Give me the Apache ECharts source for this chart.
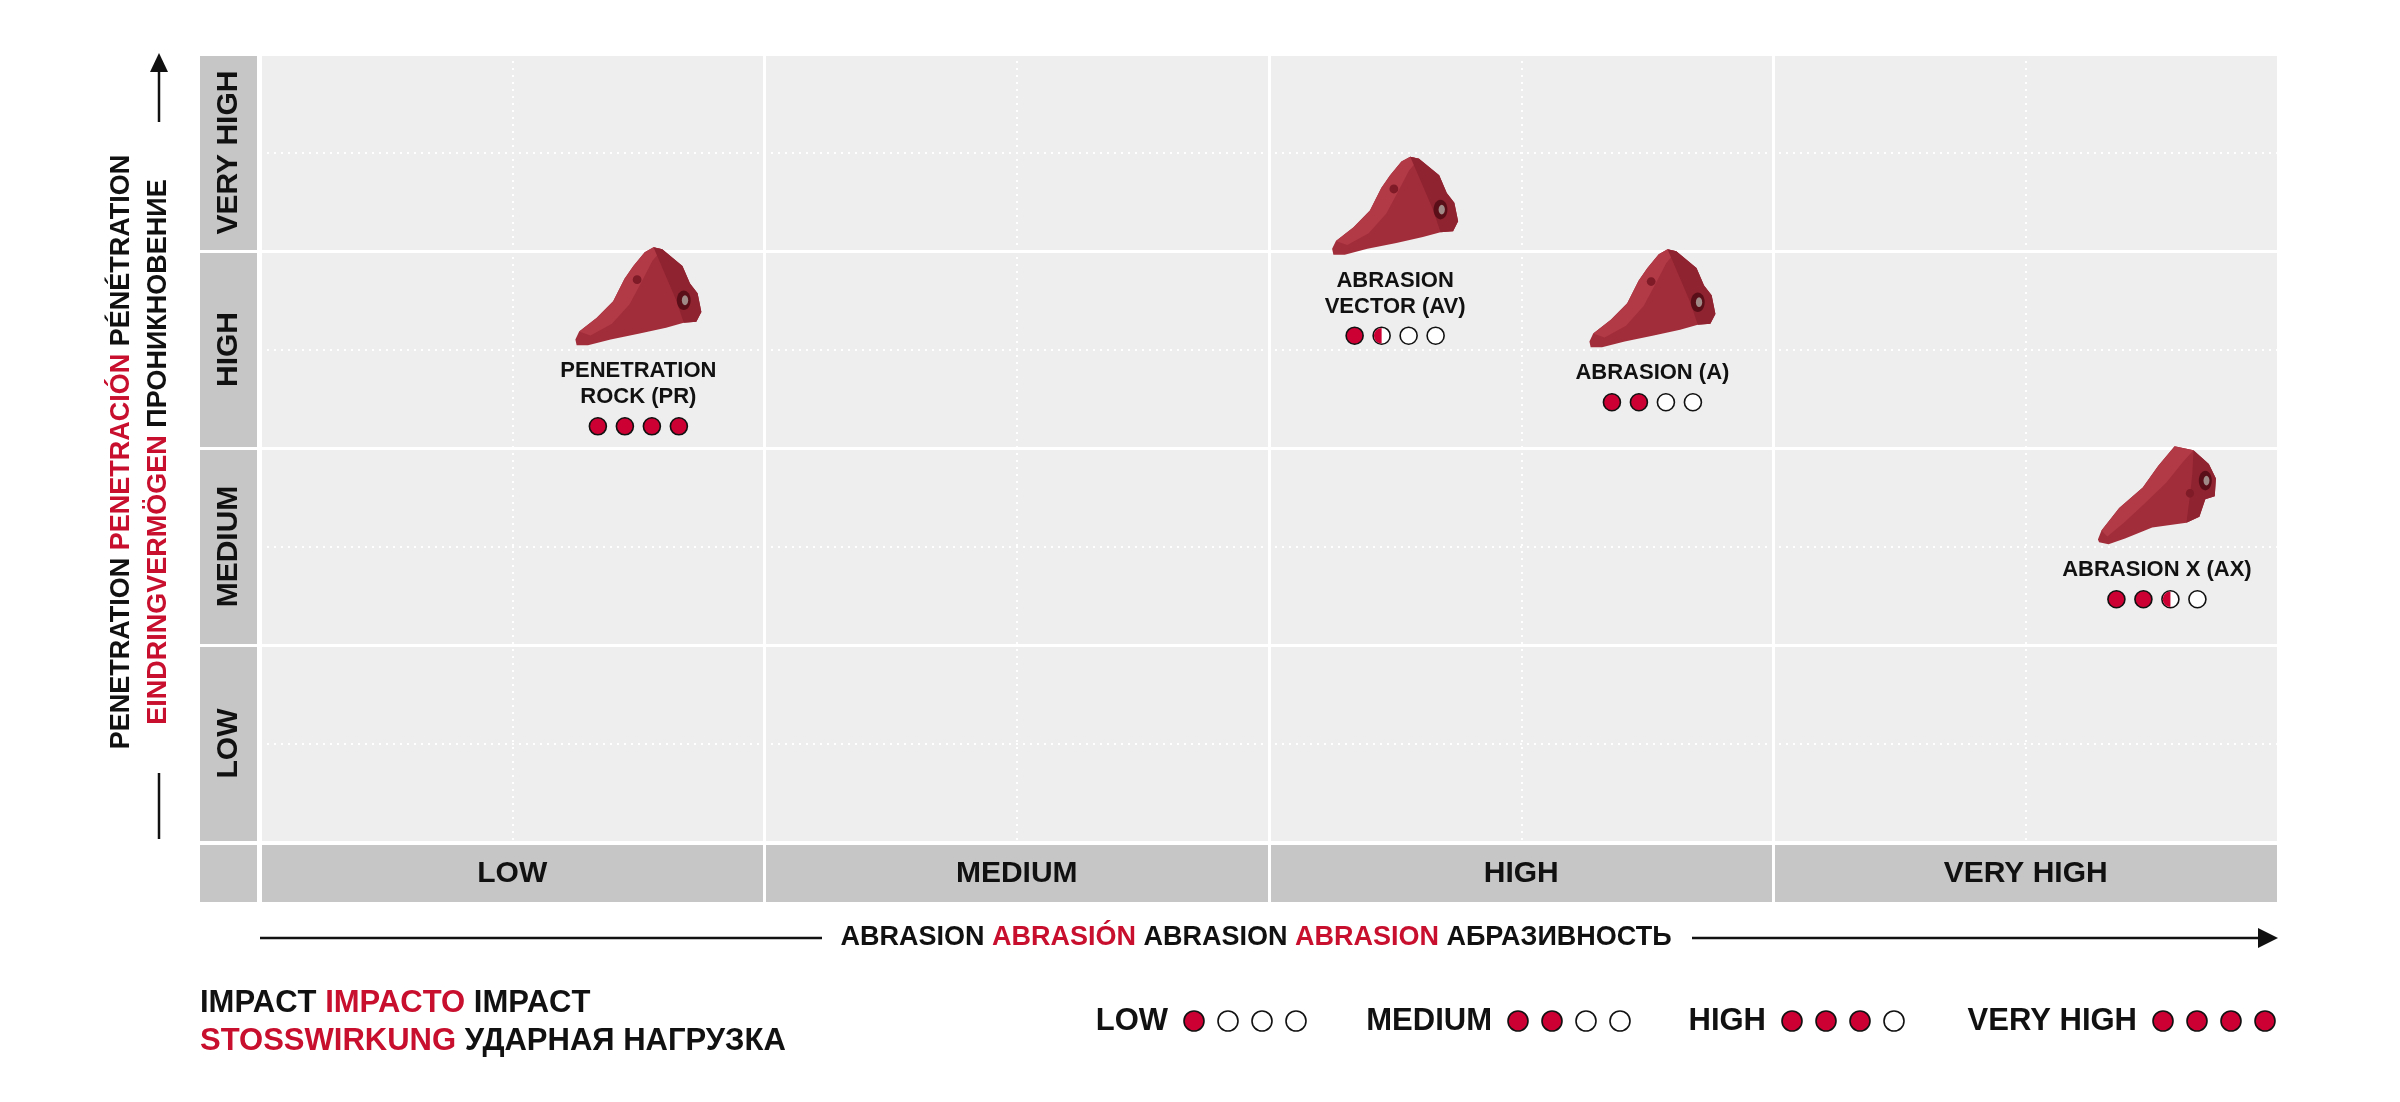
<!DOCTYPE html>
<html>
<head>
<meta charset="utf-8">
<title>Penetration / Abrasion matrix</title>
<script src="https://cdn.jsdelivr.net/npm/echarts@6/dist/echarts.min.js"></script>
<style>
  html, body { margin: 0; padding: 0; background: #fff; }
  #chart { width: 2400px; height: 1102px; }
</style>
</head>
<body>
<div id="chart"></div>
<script>
const FONT = '"Liberation Sans", Arial, sans-serif';
const RED = '#c8102e';
const DOT_RED = '#cc0033';
const PLOT_BG = '#eeeeee';
const BAND_BG = '#c6c6c6';

// data
const levels = ['LOW', 'MEDIUM', 'HIGH', 'VERY HIGH'];
const productNames = ['PENETRATION\nROCK (PR)', 'ABRASION\nVECTOR (AV)', 'ABRASION (A)', 'ABRASION X (AX)'];
const abrasion = [0.75, 2.25, 2.76, 3.76];     // x, 0..4 (LOW .. VERY HIGH)
const penetration = [2.77, 3.23, 2.76, 1.76];  // y, 0..4 (LOW .. VERY HIGH)
const impact = [4, 1.5, 2, 2.5];               // filled dots out of 4
const legendImpact = [1, 2, 3, 4];
const toothKind = ['slim', 'slim', 'slim', 'thick'];

// tooth silhouettes, drawn in a 100 x 100 box and scaled to size
const toothShapes = {
  slim: {
    w: 126, h: 98,
    body: 'M0,94 L3,86 L17,72 L30,55 L39,32 L46,19 L55,5 L62,0 L69,2 L85,19 L91,37 L97,47 L100,66 L96,76 L86,77 L72,82 L51,88 L28,94 L10,100 L1,100 Z',
    top: 'M3,86 L17,72 L30,55 L39,32 L46,19 L55,5 L62,0 L69,2 L61,14 L53,34 L43,58 L29,78 L12,90 Z',
    side: 'M62,0 L69,2 L85,19 L91,37 L97,47 L100,66 L96,76 L86,77 L80,54 L72,30 Z',
    hole: [86, 54], pin: [49, 33]
  },
  thick: {
    w: 118, h: 98,
    body: 'M0,95 L3,86 L18,63 L38,42 L51,20 L65,0 L81,4 L94,18 L100,33 L99,51 L91,54 L86,72 L75,78 L46,83 L23,94 L9,100 L1,98 Z',
    top: 'M3,86 L18,63 L38,42 L51,20 L65,0 L81,4 L72,16 L58,37 L40,58 L22,78 L8,92 Z',
    side: 'M81,4 L94,18 L100,33 L99,51 L91,54 L86,72 L75,78 L78,50 L80,28 Z',
    hole: [91, 35], pin: [78, 48]
  }
};

function dots(cx, cy, r, gap, value) {
  const els = [];
  for (let k = 0; k < 4; k++) {
    const x = cx + (k - 1.5) * gap;
    const f = Math.max(0, Math.min(1, value - k));
    els.push({
      type: 'circle',
      shape: {cx: x, cy: cy, r: r},
      style: {fill: f >= 1 ? DOT_RED : '#fff', stroke: '#111', lineWidth: 1.6}
    });
    if (f > 0 && f < 1) {
      els.push({
        type: 'sector',
        shape: {cx: x, cy: cy, r0: 0, r: r - 0.8, startAngle: Math.PI / 2, endAngle: Math.PI * 1.5, clockwise: true},
        style: {fill: DOT_RED}
      });
    }
  }
  return els;
}

function tooth(t, x0, y0) {
  return {
    type: 'group', x: x0, y: y0, scaleX: t.w / 100, scaleY: t.h / 100,
    children: [
      {type: 'path', shape: {pathData: t.body}, style: {fill: '#a22d3a'}},
      {type: 'path', shape: {pathData: t.top}, style: {fill: '#b23a47'}},
      {type: 'path', shape: {pathData: t.side}, style: {fill: '#8f2330'}},
      {type: 'ellipse', shape: {cx: t.hole[0], cy: t.hole[1], rx: 5.5, ry: 10}, style: {fill: '#5a0f18'}},
      {type: 'ellipse', shape: {cx: t.hole[0] + 1, cy: t.hole[1], rx: 2.5, ry: 5}, style: {fill: '#a08a88'}},
      {type: 'ellipse', shape: {cx: t.pin[0], cy: t.pin[1], rx: 3.5, ry: 4.5}, style: {fill: '#7e1b27'}}
    ]
  };
}

function renderProduct(params, api) {
  const c = api.coord([api.value(0), api.value(1)]);
  const idx = api.value(3);
  const name = productNames[idx];
  const nLines = name.split('\n').length;
  const t = toothShapes[toothKind[idx]];
  const children = [
    tooth(t, c[0] - t.w / 2, c[1] - t.h / 2),
    {
      type: 'text',
      style: {
        text: name, x: c[0], y: c[1] + 62,
        align: 'center', verticalAlign: 'top',
        fontFamily: FONT, fontWeight: 'bold', fontSize: 22, lineHeight: 26,
        fill: '#111'
      }
    }
  ];
  const dy = 62 + nLines * 26 + 16;
  return {type: 'group', children: children.concat(dots(c[0], c[1] + dy, 8.5, 27, api.value(2)))};
}

// bottom legend
const legendDotStart = [1194, 1518, 1792, 2163];
const legendEls = [];
levels.forEach((lv, i) => {
  const x = legendDotStart[i];
  legendEls.push({
    type: 'text',
    style: {text: lv, x: x - 26, y: 1021, align: 'right', verticalAlign: 'middle',
      fontFamily: FONT, fontWeight: 'bold', fontSize: 31, fill: '#111'}
  });
  dots(x + 1.5 * 34, 1021, 10, 34, legendImpact[i]).forEach(e => legendEls.push(e));
});

const richRed = (size) => ({r: {fill: RED, fontFamily: FONT, fontWeight: 'bold', fontSize: size}});
const textStyle = (size) => ({fontFamily: FONT, fontWeight: 'bold', fontSize: size, fill: '#111'});

const chart = echarts.init(document.getElementById('chart'), null, {renderer: 'canvas'});

const hiddenValue = (grid, extra) => Object.assign({
  type: 'value', gridIndex: grid, min: 0, max: 4,
  axisLine: {show: false}, axisTick: {show: false}, axisLabel: {show: false}, splitLine: {show: false}
}, extra || {});

const bandLabel = {fontFamily: FONT, fontWeight: 'bold', fontSize: 30, color: '#111', interval: 0};

const option = {
  animation: false,
  backgroundColor: '#fff',
  grid: [
    {left: 260, top: 54, width: 2018, height: 788, show: true, backgroundColor: PLOT_BG, borderWidth: 0},
    {left: 260, top: 845, width: 2018, height: 57, show: true, backgroundColor: BAND_BG, borderWidth: 0},
    {left: 200, top: 54, width: 57, height: 788, show: true, backgroundColor: BAND_BG, borderWidth: 0}
  ],
  xAxis: [
    hiddenValue(0, {interval: 0.5, splitLine: {show: true, lineStyle: {color: '#fff', width: 2, type: [2, 5]}}}),
    hiddenValue(0, {interval: 1, splitLine: {show: true, lineStyle: {color: '#fff', width: 3}}}),
    {
      type: 'category', gridIndex: 1, data: levels, boundaryGap: true,
      axisLine: {show: false}, axisTick: {show: false},
      splitLine: {show: true, interval: 0, lineStyle: {color: '#fff', width: 3}},
      axisLabel: Object.assign({inside: true, margin: 28.5, verticalAlign: 'middle'}, bandLabel)
    },
    hiddenValue(2)
  ],
  yAxis: [
    hiddenValue(0, {interval: 0.5, splitLine: {show: true, lineStyle: {color: '#fff', width: 2, type: [2, 5]}}}),
    hiddenValue(0, {interval: 1, splitLine: {show: true, lineStyle: {color: '#fff', width: 3}}}),
    hiddenValue(1),
    {
      type: 'category', gridIndex: 2, data: levels, boundaryGap: true,
      axisLine: {show: false}, axisTick: {show: false},
      splitLine: {show: true, interval: 0, lineStyle: {color: '#fff', width: 3}},
      axisLabel: Object.assign({inside: true, margin: 28.5, rotate: 90, align: 'center', verticalAlign: 'middle'}, bandLabel)
    }
  ],
  series: [{
    type: 'custom',
    coordinateSystem: 'cartesian2d',
    xAxisIndex: 0, yAxisIndex: 0,
    clip: false, silent: true,
    data: productNames.map((n, i) => [abrasion[i], penetration[i], impact[i], i]),
    renderItem: renderProduct
  }],
  graphic: [
    {type: 'rect', shape: {x: 200, y: 845, width: 57, height: 57}, style: {fill: BAND_BG}},
    // y axis arrow
    {type: 'line', shape: {x1: 159, y1: 70, x2: 159, y2: 122}, style: {stroke: '#111', lineWidth: 2.5}},
    {type: 'polygon', shape: {points: [[159, 53], [150, 72], [168, 72]]}, style: {fill: '#111'}},
    {type: 'line', shape: {x1: 159, y1: 773, x2: 159, y2: 839}, style: {stroke: '#111', lineWidth: 2.5}},
    {
      type: 'text', x: 122, y: 452, rotation: Math.PI / 2,
      style: Object.assign({text: 'PENETRATION {r|PENETRACIÓN} PÉNÉTRATION', align: 'center', verticalAlign: 'middle', rich: richRed(27)}, textStyle(27))
    },
    {
      type: 'text', x: 159, y: 452, rotation: Math.PI / 2,
      style: Object.assign({text: '{r|EINDRINGVERMÖGEN} ПРОНИКНОВЕНИЕ', align: 'center', verticalAlign: 'middle', rich: richRed(27)}, textStyle(27))
    },
    // x axis arrow
    {type: 'line', shape: {x1: 260, y1: 938, x2: 822, y2: 938}, style: {stroke: '#111', lineWidth: 2.5}},
    {type: 'line', shape: {x1: 1692, y1: 938, x2: 2262, y2: 938}, style: {stroke: '#111', lineWidth: 2.5}},
    {type: 'polygon', shape: {points: [[2278, 938], [2258, 928], [2258, 948]]}, style: {fill: '#111'}},
    {
      type: 'text', x: 1256, y: 938,
      style: Object.assign({text: 'ABRASION {r|ABRASIÓN} ABRASION {r|ABRASION} АБРАЗИВНОСТЬ', align: 'center', verticalAlign: 'middle', rich: richRed(27)}, textStyle(27))
    },
    // impact legend
    {
      type: 'text', x: 200, y: 1003,
      style: Object.assign({text: 'IMPACT {r|IMPACTO} IMPACT', align: 'left', verticalAlign: 'middle', rich: richRed(31)}, textStyle(31))
    },
    {
      type: 'text', x: 200, y: 1041,
      style: Object.assign({text: '{r|STOSSWIRKUNG} УДАРНАЯ НАГРУЗКА', align: 'left', verticalAlign: 'middle', rich: richRed(31)}, textStyle(31))
    }
  ].concat(legendEls)
};

chart.setOption(option);
</script>
</body>
</html>
